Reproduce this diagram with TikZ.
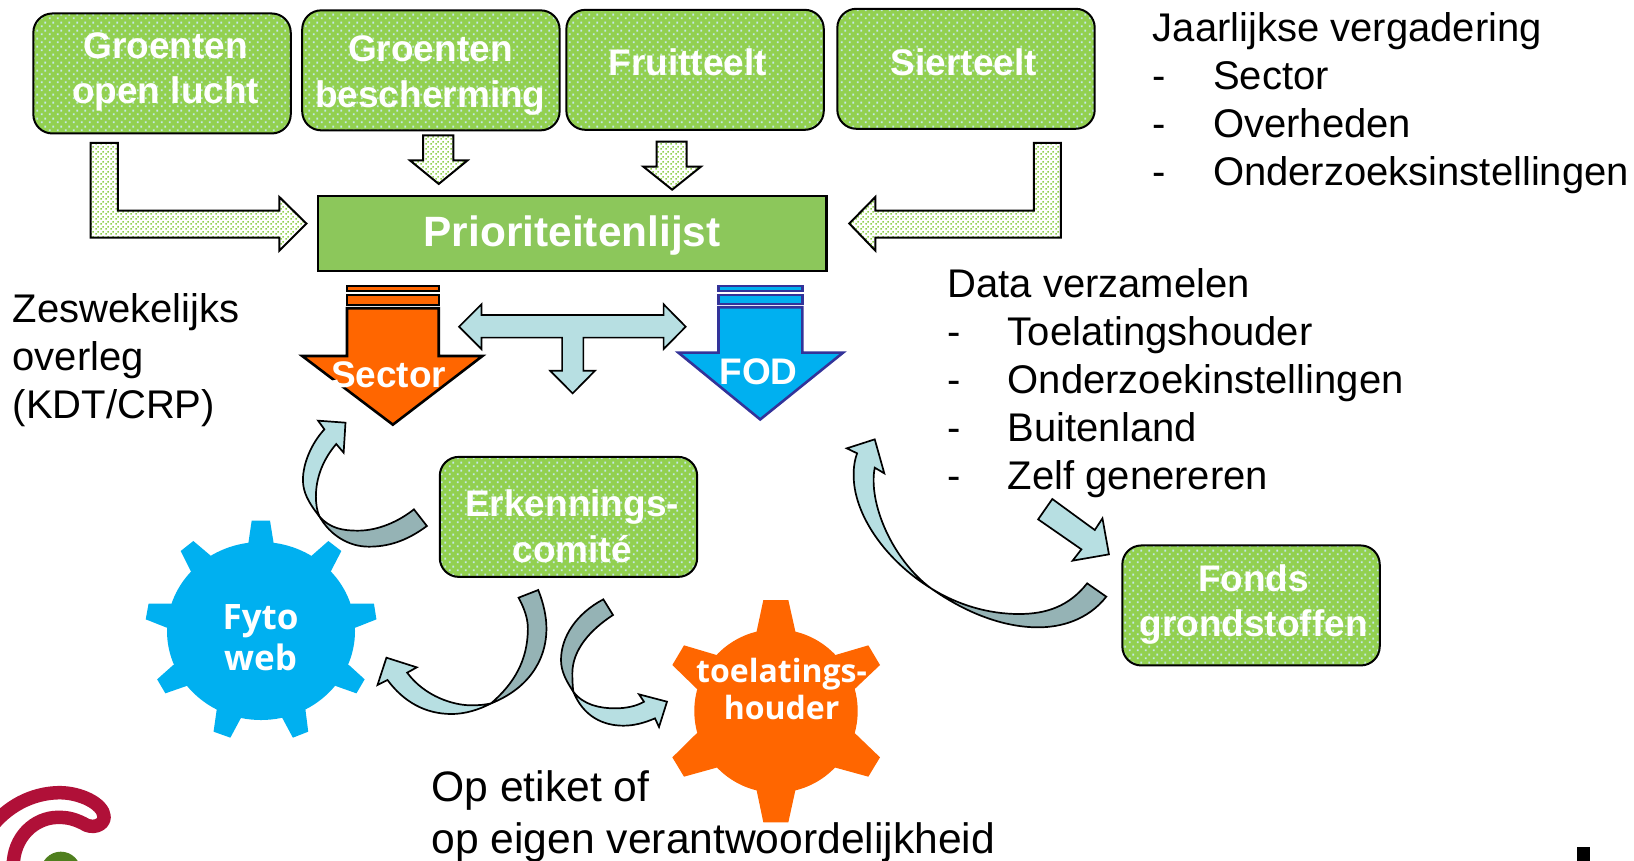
\documentclass[tikz,border=0pt]{standalone}
\usepackage{fontspec}
\setmainfont{Liberation Sans}
\newfontfamily\gearfont{Open Sans}
\usetikzlibrary{patterns}
\pgfdeclarepatternformonly{boxdots}{\pgfqpoint{0pt}{0pt}}{\pgfqpoint{8pt}{8pt}}{\pgfqpoint{8pt}{8pt}}{
  \pgfpathrectangle{\pgfqpoint{1pt}{1pt}}{\pgfqpoint{2pt}{2pt}}
  \pgfpathrectangle{\pgfqpoint{5pt}{5pt}}{\pgfqpoint{2pt}{2pt}}
  \pgfusepath{fill}}
\pgfdeclarepatternformonly{arrowdots}{\pgfqpoint{0pt}{0pt}}{\pgfqpoint{5pt}{5pt}}{\pgfqpoint{5pt}{5pt}}{
  \pgfpathrectangle{\pgfqpoint{0.4pt}{0.4pt}}{\pgfqpoint{1.7pt}{1.7pt}}
  \pgfpathrectangle{\pgfqpoint{2.9pt}{2.9pt}}{\pgfqpoint{1.7pt}{1.7pt}}
  \pgfusepath{fill}}
\definecolor{boxgreen}{HTML}{92D050}
\definecolor{priogreen}{HTML}{8CC75B}
\definecolor{dotblue}{HTML}{C5E8EA}
\definecolor{lightteal}{HTML}{B7DFE2}
\definecolor{darkteal}{HTML}{95B3B5}
\definecolor{orangefill}{HTML}{FF6600}
\definecolor{skyfill}{HTML}{00B0F0}
\definecolor{fodline}{HTML}{333399}
\definecolor{logored}{HTML}{B01038}
\definecolor{logogreen}{HTML}{4F7F1E}
\newcommand{\bul}[1]{\makebox[60.4pt][l]{-}#1}
\tikzset{
  gbox/.style={draw=black,line width=2pt,rounded corners=19pt,minimum width=257.4pt,minimum height=120pt,
     preaction={fill=boxgreen},pattern=boxdots,pattern color=dotblue,inner sep=0pt},
  prio/.style={draw=black,line width=2.4pt,fill=priogreen,minimum width=508.5pt,minimum height=75pt,inner sep=0pt},
  wlabel/.style={text=white,font=\fontsize{37}{45.8}\selectfont\bfseries,align=center,inner sep=0pt},
  glabel/.style={text=white,font=\fontsize{32}{37}\selectfont\gearfont\bfseries,align=center,inner sep=0pt},
  btext/.style={text=black,font=\fontsize{40}{48}\selectfont,align=left,anchor=north west,inner sep=0pt},
  dotarrow/.style={draw=black,line width=2pt,line join=miter,preaction={fill=white},pattern=arrowdots,pattern color=boxgreen},
  sectorarrow/.style={draw=black,line width=2.6pt,fill=orangefill,line join=miter},
  fodarrow/.style={draw=fodline,line width=2.6pt,fill=skyfill,line join=miter},
  thinstrip/.style={line width=2.2pt},
  lightarrow/.style={draw=black,line width=1.7pt,fill=lightteal,line join=miter},
  darkfold/.style={draw=black,line width=1.7pt,fill=darkteal,line join=miter},
  zoomB/.style={shift={(280pt,-270pt)},x=0.36996pt,y=-0.33333pt},
  zoomC/.style={shift={(0pt,-560pt)},x=0.35714pt,y=-0.33333pt},
  zoomD/.style={shift={(820pt,-420pt)},x=0.3827pt,y=-0.33333pt},
  zoomE/.style={shift={(540pt,-580pt)},x=0.33333pt,y=-0.33333pt},
  zoomF/.style={shift={(130pt,-500pt)},x=0.33333pt,y=-0.33333pt},
  zoomL/.style={shift={(1.5pt,-770pt)},x=0.33333pt,y=-0.33333pt},
}
\begin{document}
\begin{tikzpicture}[x=1.04209pt,y=-1.04209pt]
\clip (0,0) rectangle (1568,825.26);
\fill[white] (0,0) rectangle (1568,825.26);

% logo
\begin{scope}[zoomL]
  \draw[logored,line width=13.5pt,line cap=round,line join=round]
    (-30,170) .. controls (30,95) and (110,68) .. (175,68)
    .. controls (235,68) and (305,100) .. (308,140)
    .. controls (308,168) and (270,178) .. (245,160)
    .. controls (215,145) and (195,142) .. (170,142)
    .. controls (100,142) and (35,200) .. (35,290);
  \fill[logogreen] (178,305) circle[radius=20pt];
\end{scope}
\fill[black] (1513,813) rectangle (1526,826);

% top boxes
\node[gbox] (box1) at (155.5,70.5) {};
\node[gbox] (box2) at (413.5,67.5) {};
\node[gbox] (box3) at (667,67) {};
\node[gbox] (box4) at (927,66) {};
\node[wlabel] (lab1) at (159,69) {Groenten\\open lucht};
\node[wlabel] (lab2) at (413,72.5) {Groenten\\bescherming};
\node[wlabel] (lab3) at (660,60) {Fruitteelt};
\node[wlabel] (lab4) at (925,60) {Sierteelt};

% priority list
\node[prio] (prio) at (549,224) {};
\node[wlabel,font=\fontsize{42.4}{50}\selectfont\bfseries] (priolab) at (549,226) {Prioriteitenlijst};

% dotted arrows into the list
\draw[dotarrow] (87,137) -- (113,137) -- (113,202) -- (268,202) -- (268,189) -- (294,214.5) -- (268,240.5) -- (268,228) -- (87,228) -- cycle;
\draw[dotarrow] (406,130) -- (435,130) -- (435,154) -- (448.5,154) -- (421,176.5) -- (393.5,154) -- (406,154) -- cycle;
\draw[dotarrow] (630,136) -- (659,136) -- (659,160) -- (672.5,160) -- (645,182) -- (617.5,160) -- (630,160) -- cycle;
\draw[dotarrow] (1018,137) -- (992,137) -- (992,202) -- (840,202) -- (840,189) -- (815,214.5) -- (840,240.5) -- (840,228) -- (1018,228) -- cycle;

% Sector arrow
\draw[sectorarrow,thinstrip] (333,274.6) rectangle (421,279.4);
\draw[sectorarrow,thinstrip] (333,283) rectangle (421,292.4);
\draw[sectorarrow] (333,295.8) -- (421,295.8) -- (421,341.6) -- (463,341.6) -- (377,407.5) -- (290,341.6) -- (333,341.6) -- cycle;
\node[wlabel] (sector) at (373,360) {Sector};

% FOD arrow
\draw[fodarrow,thinstrip] (689.5,274.6) rectangle (770,279.4);
\draw[fodarrow,thinstrip] (689.5,282.8) rectangle (770,291.4);
\draw[fodarrow] (689.5,294.8) -- (770,294.8) -- (770,338.4) -- (809,338.4) -- (729.5,402.5) -- (651,338.4) -- (689.5,338.4) -- cycle;
\node[wlabel] (fod) at (728,357) {FOD};

% T arrow
\draw[lightarrow] (440.5,313.5) -- (462,292) -- (462,302.3) -- (636.8,302.3) -- (636.8,292) -- (658,313.5) -- (636.8,335) -- (636.8,324) -- (559.8,324) -- (559.8,355.7) -- (571,355.7) -- (549.5,377.5) -- (527.9,355.7) -- (539.4,355.7) -- (539.4,324) -- (462,324) -- (462,335) -- cycle;

% lower boxes
\node[gbox] (erk) at (545.5,496) {};
\node[wlabel] (erklab) at (549,505) {Erkennings-\\comité};
\node[gbox] (fonds) at (1200.5,581) {};
\node[wlabel] (fondslab) at (1203,580) {Fonds\\grondstoffen};

% gears
\fill[skyfill] (261pt,-631pt) ellipse[x radius=94pt,y radius=89pt];
\begin{scope}[zoomF]
  \fill[skyfill] (365,62) -- (420,62) -- (431,130) -- (393,390) -- (355,130) -- cycle;
  \fill[skyfill] (152,153) -- (190,123) -- (242,167) -- (393,390) -- (182,213) -- cycle;
  \fill[skyfill] (595,123) -- (634,153) -- (603,213) -- (393,390) -- (545,167) -- cycle;
\end{scope}
\begin{scope}[zoomC]
  \coordinate (gc) at (730,215);
  \fill[skyfill] (983,131) -- (1047,131) -- (1054,178) -- (995,203) -- (gc) -- cycle;
  \fill[skyfill] (480,131) -- (416,131) -- (408,178) -- (467,203) -- (gc) -- cycle;
  \fill[skyfill] (977,315) -- (1021,358) -- (998,400) -- (940,378) -- (gc) -- cycle;
  \fill[skyfill] (485,315) -- (440,358) -- (463,400) -- (522,378) -- (gc) -- cycle;
  \fill[skyfill] (855,447) -- (863,515) -- (820,533) -- (790,473) -- (gc) -- cycle;
  \fill[skyfill] (607,447) -- (598,515) -- (645,533) -- (675,473) -- (gc) -- cycle;
\end{scope}
\node[glabel,font=\fontsize{35}{40.6}\selectfont\gearfont\bfseries] (fyto) at (250,612) {Fyto\\web};
\begin{scope}[zoomE]
  \fill[orangefill] (708,393) circle[radius=81.7pt];
  \coordinate (oc) at (708,393);
  \fill[orangefill] (670,60) -- (745,60) -- (768,163) -- (oc) -- (648,163) -- cycle;
  \fill[orangefill] (883,226) -- (985,196) -- (1020,255) -- (945,326) -- (oc) -- cycle;
  \fill[orangefill] (945,460) -- (1020,532) -- (985,590) -- (883,562) -- (oc) -- cycle;
  \fill[orangefill] (768,622) -- (745,727) -- (670,727) -- (648,622) -- (oc) -- cycle;
  \fill[orangefill] (533,562) -- (432,590) -- (397,532) -- (470,460) -- (oc) -- cycle;
  \fill[orangefill] (470,326) -- (397,255) -- (432,196) -- (533,226) -- (oc) -- cycle;
\end{scope}
\node[glabel] (toel) at (750,661) {toelatings-\\houder};

% curved arrows
\begin{scope}[zoomB]
  \draw[lightarrow] (107,740) .. controls (75,695) and (62,665) .. (62,630) .. controls (62,580) and (85,520) .. (120,478) -- (103,452) -- (177,458) -- (172,548) -- (152,522) .. controls (115,570) and (97,625) .. (97,680) .. controls (97,700) and (100,725) .. (107,740) -- cycle;
  \draw[darkfold] (362,718) -- (397,768) .. controls (340,815) and (290,830) .. (240,830) .. controls (185,830) and (135,795) .. (107,740) .. controls (135,775) and (170,782) .. (210,782) .. controls (265,782) and (320,755) .. (362,718) -- cycle;
\end{scope}
\begin{scope}[zoomC]
  \draw[lightarrow] (1375,430) .. controls (1340,450) and (1300,462) .. (1265,462) .. controls (1190,462) and (1130,425) .. (1085,360) -- (1057,375) -- (1082,293) -- (1167,322) -- (1140,338) .. controls (1190,410) and (1270,436) .. (1320,436) .. controls (1340,436) and (1360,434) .. (1375,430) -- cycle;
  \draw[darkfold] (1452,113) -- (1507,90) .. controls (1522,130) and (1530,170) .. (1530,205) .. controls (1530,310) and (1470,390) .. (1375,430) .. controls (1440,370) and (1478,300) .. (1478,205) .. controls (1478,175) and (1468,145) .. (1452,113) -- cycle;
\end{scope}
\begin{scope}[zoomE]
  \draw[lightarrow] (100,335) .. controls (130,375) and (180,385) .. (225,385) .. controls (260,385) and (290,378) .. (312,365) -- (297,343) -- (381,365) -- (357,441) -- (345,415) .. controls (310,430) and (280,437) .. (250,437) .. controls (190,437) and (130,410) .. (100,335) -- cycle;
  \draw[darkfold] (190,58) -- (219,105) .. controls (150,150) and (97,210) .. (97,280) .. controls (97,300) and (98,320) .. (100,335) .. controls (80,305) and (63,275) .. (63,240) .. controls (63,170) and (110,100) .. (190,58) -- cycle;
\end{scope}
\begin{scope}[zoomD]
  \draw[lightarrow] (290,505) .. controls (170,420) and (85,280) .. (88,160) .. controls (88,135) and (92,115) .. (97,100) -- (70,85) -- (143,58) -- (168,160) -- (143,143) .. controls (125,250) and (190,420) .. (290,505) -- cycle;
  \draw[darkfold] (698,490) -- (748,530) .. controls (700,600) and (630,622) .. (570,622) .. controls (470,622) and (370,570) .. (290,505) .. controls (360,555) and (440,582) .. (520,582) .. controls (590,582) and (650,560) .. (698,490) -- cycle;
  \draw[lightarrow] (607,237) -- (718,330) -- (738,295) -- (755,403) -- (660,422) -- (683,388) -- (570,298) -- cycle;
\end{scope}

% black texts
\node[btext] (yearly) at (1106,12) {Jaarlijkse vergadering\\\bul{Sector}\\\bul{Overheden}\\\bul{Onderzoeksinstellingen}};
\node[btext] (data) at (909,257) {Data verzamelen\\\bul{Toelatingshouder}\\\bul{Onderzoekinstellingen}\\\bul{Buitenland}\\\bul{Zelf genereren}};
\node[btext] (zes) at (12,281) {Zeswekelijks\\overleg\\(KDT/CRP)};
\node[btext,font=\fontsize{42.6}{52}\selectfont] (etiket) at (414,739) {Op etiket of\\op eigen verantwoordelijkheid};
\end{tikzpicture}
\end{document}
